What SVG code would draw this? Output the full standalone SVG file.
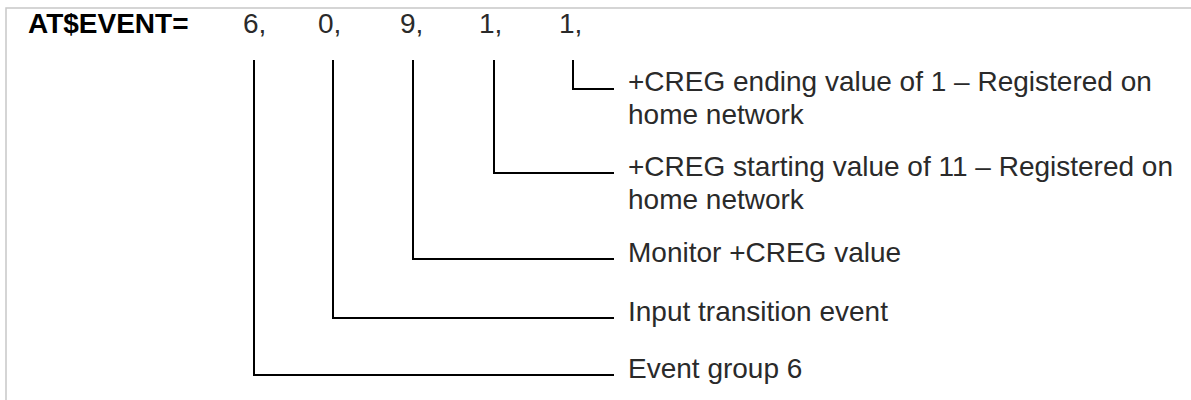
<svg xmlns="http://www.w3.org/2000/svg" width="1191" height="400" viewBox="0 0 1191 400">
  <style>
    text { font-family: "Liberation Sans", Arial, sans-serif; font-size: 28px; fill: #2a2a2a; }
    .cmd { fill: #000; font-weight: bold; }
    .conn { fill: none; stroke: #000; stroke-width: 2; }
    .frame { fill: none; stroke: #c8c8c8; stroke-width: 1.5; }
  </style>
  <rect width="1191" height="400" fill="#fff"/>
  <path class="frame" d="M6 400 V8 H1191"/>
  <g id="command">
    <text class="cmd" x="28" y="33">AT$EVENT=</text>
    <text x="243" y="33">6,</text>
    <text x="318" y="33">0,</text>
    <text x="400" y="33">9,</text>
    <text x="479" y="33">1,</text>
    <text x="559" y="33">1,</text>
  </g>
  <g id="connectors">
    <path class="conn" d="M573 60 V89 H614"/>
    <path class="conn" d="M494 60 V173 H614"/>
    <path class="conn" d="M413 60 V259 H614"/>
    <path class="conn" d="M333 60 V318 H614"/>
    <path class="conn" d="M254 60 V375 H614"/>
  </g>
  <g id="label-ending">
    <text x="628" y="91">+CREG ending value of 1 – Registered on</text>
    <text x="628" y="124">home network</text>
  </g>
  <g id="label-starting">
    <text x="628" y="176">+CREG starting value of 11 – Registered on</text>
    <text x="628" y="209">home network</text>
  </g>
  <g id="label-monitor">
    <text x="628" y="262">Monitor +CREG value</text>
  </g>
  <g id="label-input">
    <text x="628" y="321">Input transition event</text>
  </g>
  <g id="label-group">
    <text x="628" y="378">Event group 6</text>
  </g>
</svg>
